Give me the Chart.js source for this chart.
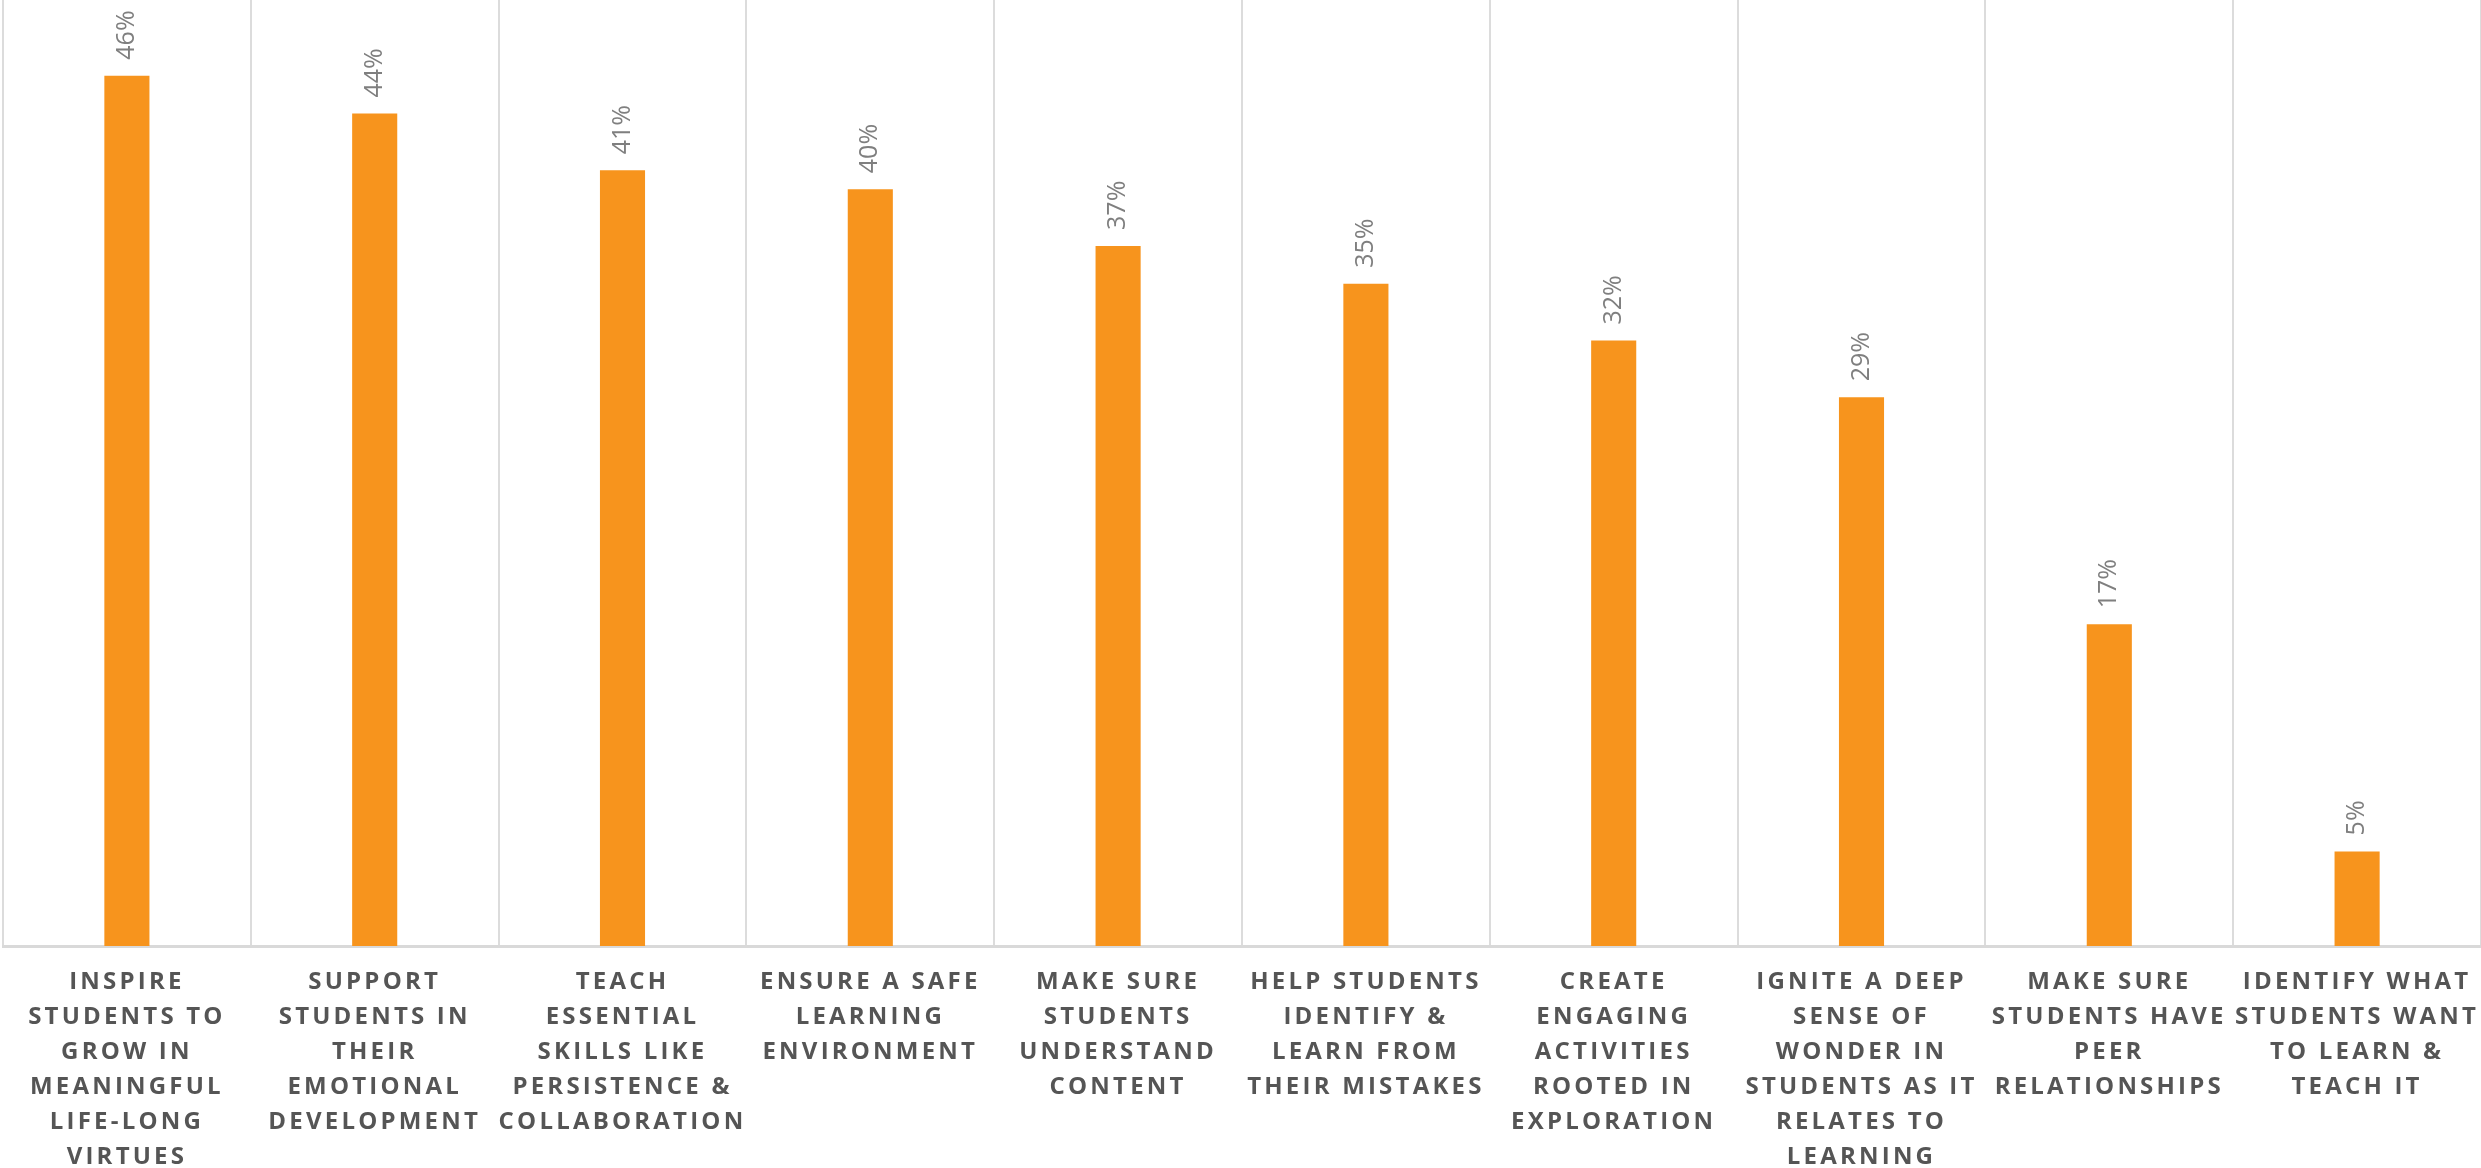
<!DOCTYPE html>
<html>
<head>
<meta charset="utf-8">
<script src="https://cdn.jsdelivr.net/npm/chart.js@4/dist/chart.umd.min.js"></script>
<style>
  html, body { margin: 0; padding: 0; background: #ffffff; }
  #wrap { width: 2481px; height: 1168px; position: relative; }
</style>
</head>
<body>
<div id="wrap"><canvas id="c" width="2481" height="1168"></canvas></div>
<script>
const categories = [
  ["INSPIRE", "STUDENTS TO", "GROW IN", "MEANINGFUL", "LIFE-LONG", "VIRTUES"],
  ["SUPPORT", "STUDENTS IN", "THEIR", "EMOTIONAL", "DEVELOPMENT"],
  ["TEACH", "ESSENTIAL", "SKILLS LIKE", "PERSISTENCE &", "COLLABORATION"],
  ["ENSURE A SAFE", "LEARNING", "ENVIRONMENT"],
  ["MAKE SURE", "STUDENTS", "UNDERSTAND", "CONTENT"],
  ["HELP STUDENTS", "IDENTIFY &", "LEARN FROM", "THEIR MISTAKES"],
  ["CREATE", "ENGAGING", "ACTIVITIES", "ROOTED IN", "EXPLORATION"],
  ["IGNITE A DEEP", "SENSE OF", "WONDER IN", "STUDENTS AS IT", "RELATES TO", "LEARNING"],
  ["MAKE SURE", "STUDENTS HAVE", "PEER", "RELATIONSHIPS"],
  ["IDENTIFY WHAT", "STUDENTS WANT", "TO LEARN &", "TEACH IT"]
];
const values = [46, 44, 41, 40, 37, 35, 32, 29, 17, 5];
const valueLabels = ["46%", "44%", "41%", "40%", "37%", "35%", "32%", "29%", "17%", "5%"];
const yMin = 0;
const yMax = 50;

const letterSpacingPlugin = {
  id: 'letterSpacing',
  beforeDraw(chart) { chart.ctx.letterSpacing = '3.2px'; },
  beforeDatasetsDraw(chart) { chart.ctx.letterSpacing = '0px'; }
};

const valueLabelPlugin = {
  id: 'valueLabels',
  afterDatasetsDraw(chart) {
    const ctx = chart.ctx;
    const meta = chart.getDatasetMeta(0);
    meta.data.forEach((el, i) => {
      ctx.save();
      ctx.letterSpacing = '0px';
      ctx.translate(el.x, el.y - 16);
      ctx.rotate(-Math.PI / 2);
      ctx.font = '25px "Open Sans"';
      ctx.fillStyle = '#7f7f7f';
      ctx.textAlign = 'left';
      ctx.textBaseline = 'middle';
      ctx.fillText(valueLabels[i], 0, 0);
      ctx.restore();
    });
  }
};

new Chart(document.getElementById('c'), {
  type: 'bar',
  data: {
    labels: categories,
    datasets: [{
      data: values,
      backgroundColor: '#f7941d',
      borderWidth: 0,
      barPercentage: 0.182,
      categoryPercentage: 1.0
    }]
  },
  options: {
    responsive: false,
    animation: false,
    devicePixelRatio: 1,
    layout: { padding: { left: 3, right: 0, top: 0, bottom: 0 } },
    plugins: {
      legend: { display: false },
      tooltip: { enabled: false },
      title: { display: false }
    },
    scales: {
      x: {
        offset: true,
        afterFit(scale) { scale.height = 222; },
        grid: {
          display: true,
          offset: true,
          color: '#dcdcdc',
          lineWidth: 2,
          drawTicks: false
        },
        border: { display: true, color: '#d9d9d9', width: 3 },
        ticks: {
          autoSkip: false,
          maxRotation: 0,
          minRotation: 0,
          padding: 19,
          color: '#555555',
          font: { family: '"Open Sans"', size: 24, weight: 'bold', lineHeight: 35 / 24 }
        }
      },
      y: {
        display: false,
        min: yMin,
        max: yMax
      }
    }
  },
  plugins: [letterSpacingPlugin, valueLabelPlugin]
});
</script>
</body>
</html>
